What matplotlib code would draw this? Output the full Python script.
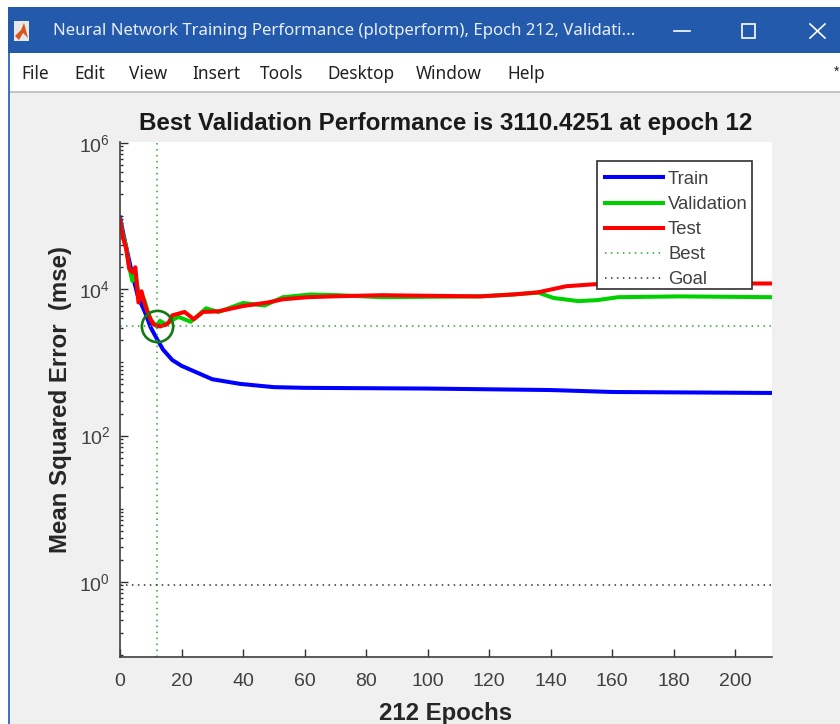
import matplotlib
matplotlib.use("Agg")
import matplotlib.pyplot as plt
from matplotlib.patches import Rectangle, Polygon
from matplotlib.ticker import LogLocator, NullFormatter

plt.rcParams['font.family'] = ['Liberation Sans', 'DejaVu Sans']
plt.rcParams['mathtext.fontset'] = 'custom'
plt.rcParams['mathtext.rm'] = 'Liberation Sans'
plt.rcParams['mathtext.default'] = 'regular'

# values
train_epochs = [0, 2, 4, 6, 7, 8, 10, 12, 14, 17, 20, 24, 30, 39, 50, 60, 100, 140, 160, 212]
train_mse = [95500, 38000, 16000, 7500, 6200, 5000, 3000, 2100, 1500, 1080, 900, 760, 590, 510, 460, 450, 440, 420, 395, 383]

val_epochs = [0, 1, 2, 3, 4, 5, 6, 7, 8, 9, 10, 11, 12, 13, 15, 17, 19, 23, 28, 32, 40, 47, 53, 62, 71, 85, 117, 128, 136, 141, 149, 155, 162, 182, 212]
val_mse = [90000, 55000, 38000, 20000, 13000, 16000, 9000, 8500, 7000, 5000, 3900, 3400, 3110, 3700, 3300, 3800, 4200, 3600, 5500, 4900, 6500, 6000, 7800, 8500, 8300, 7800, 8000, 8500, 9000, 7600, 6900, 7100, 7800, 8000, 7800]

test_epochs = [0, 1, 2, 3, 4, 5, 6, 7, 8, 9, 10, 11, 12, 13, 14, 15, 16, 17, 21, 24, 27, 32, 40, 48, 53, 61, 69, 85, 117, 128, 136, 145, 154, 180, 212]
test_mse = [89000, 50000, 36000, 19000, 17000, 20000, 6600, 9400, 6300, 4800, 3800, 3300, 3200, 3100, 3200, 3300, 3600, 4400, 4900, 3900, 4900, 5000, 5900, 6600, 7300, 7800, 8000, 8300, 8000, 8500, 9100, 11000, 11700, 12000, 12000]

best_epoch = 12
best_perf = 3110.4251
goal = 0.9
total_epochs = 212

menu_items = ["File", "Edit", "View", "Insert", "Tools", "Desktop", "Window", "Help"]
menu_x = [21, 74, 129, 192, 260, 327, 416, 507]

GRAY = '#404040'
DOTS = (0, (1, 2.9))
fig = plt.figure(figsize=(8.4, 7.24), dpi=100, facecolor='white')

# window frame, in pixel coordinates
bg = fig.add_axes([0, 0, 1, 1])
bg.set_xlim(0, 840)
bg.set_ylim(724, 0)
bg.axis('off')
bg.add_patch(Rectangle((10, 53), 830, 671, color='#F0F0F0', lw=0))
bg.add_patch(Rectangle((10, 53), 830, 39, color='white', lw=0))
bg.add_patch(Rectangle((10, 91), 830, 2, color='#C4C4C4', lw=0))
bg.add_patch(Rectangle((8, 7), 832, 46, color='#245AAB', lw=0))
bg.add_patch(Rectangle((8, 53), 2, 671, color='#3D72C4', lw=0))

# window icon
bg.add_patch(Rectangle((14, 21), 15, 20, color='#E8E8E8', lw=0))
bg.add_patch(Polygon([[15, 36], [21, 30], [24, 23], [28, 38], [23, 33], [19, 40]], color='#D9541E', lw=0))

bg.text(53, 31, "Neural Network Training Performance (plotperform), Epoch 212, Validati...",
        family=['Noto Sans', 'DejaVu Sans'], fontsize=12.1, color='#E8EEF8', va='center', ha='left')
bg.plot([674, 690], [30.5, 30.5], color='white', lw=1.2)
bg.add_patch(Rectangle((742, 24), 13, 14, fill=False, ec='white', lw=1.2))
bg.plot([810, 825], [24, 38], color='white', lw=1.2)
bg.plot([810, 825], [38, 24], color='white', lw=1.2)
for label, x in zip(menu_items, menu_x):
    bg.text(x, 74, label, family=['Noto Sans', 'DejaVu Sans'], fontsize=12.4,
            color='#202020', va='center', ha='left')
bg.text(834, 72, "*", fontsize=10, color='#202020', va='center', ha='left')

# performance plot
ax = fig.add_axes([120 / 840, (724 - 657) / 724, 652 / 840, 515 / 724])
ax.set_yscale('log')
ax.plot(train_epochs, train_mse, color='#0000FF', lw=2.9, label='Train')
ax.plot(val_epochs, val_mse, color='#00D000', lw=2.9, label='Validation')
ax.plot(test_epochs, test_mse, color='#FF0000', lw=2.9, label='Test')
ax.axvline(best_epoch, color='#2AA52A', ls=DOTS, lw=1.1, label='Best')
ax.axhline(best_perf, color='#2AA52A', ls=DOTS, lw=1.1)
ax.axhline(goal, color='#303030', ls=DOTS, lw=1.1, label='Goal')
ax.plot([best_epoch], [best_perf], 'o', mfc='none', mec='#117A11', ms=22.5, mew=1.9)

ax.set_xlim(0, total_epochs)
ax.set_ylim(0.0944, 1.03e6)
ax.set_xticks(range(0, 201, 20))
ax.set_yticks([1, 1e2, 1e4, 1e6])
ax.yaxis.set_minor_locator(LogLocator(base=10, subs=range(1, 10), numticks=20))
ax.yaxis.set_minor_formatter(NullFormatter())
ax.tick_params(axis='both', which='major', direction='in', length=5.5, width=1,
               color='#303030', labelcolor=GRAY, labelsize=14, pad=11.5)
ax.tick_params(axis='y', which='minor', direction='in', length=2.5, width=1, color='#303030')
ax.tick_params(axis='y', which='major', pad=7)
for side in ['top', 'right']:
    ax.spines[side].set_visible(False)
for side in ['left', 'bottom']:
    ax.spines[side].set_color('#404040')
    ax.spines[side].set_linewidth(1.2)

ax.set_title("Best Validation Performance is 3110.4251 at epoch 12",
             fontsize=17.4, fontweight='bold', color='#1A1A1A', pad=8.5)
ax.set_xlabel("212 Epochs", fontsize=17.3, fontweight='bold', color='#262626', labelpad=8.5)
ax.set_ylabel("Mean Squared Error  (mse)", fontsize=17.3, fontweight='bold', color='#262626', labelpad=5)

# legend box drawn on its own, the entries sit lower in it than a legend frame allows
ax.add_patch(Rectangle((597, 161), 155, 128, transform=bg.transData, fc='white', ec='#303030',
                       lw=1.2, zorder=4, clip_on=False))
leg = ax.legend(loc='upper left', bbox_to_anchor=((597 - 120) / 652, (657 - 163) / 515),
                fontsize=13.3, frameon=False,
                handlelength=3.15, handletextpad=0.27, labelspacing=0.44, borderpad=0.43,
                borderaxespad=0, labelcolor=GRAY)
leg.set_zorder(5)

fig.savefig('out.png', dpi=100, facecolor=fig.get_facecolor())
